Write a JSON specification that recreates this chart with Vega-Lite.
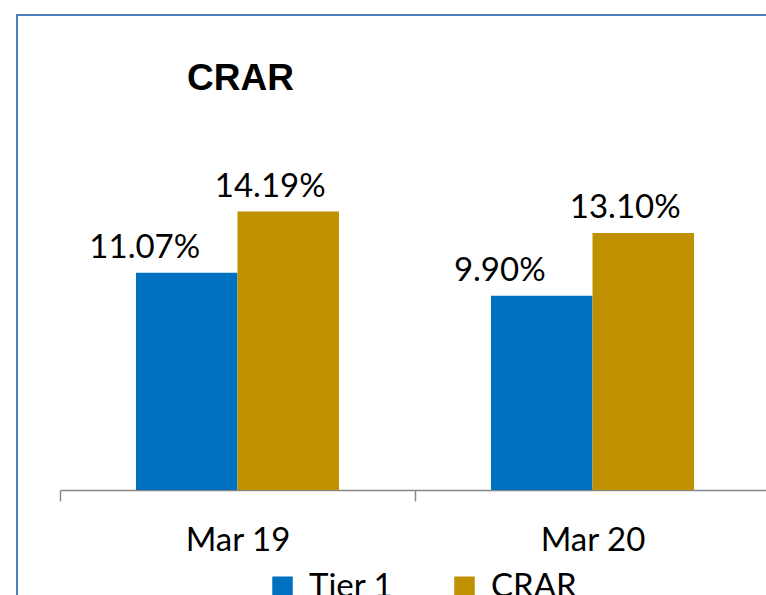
{
  "$schema": "https://vega.github.io/schema/vega-lite/v6.json",
  "width": 760,
  "height": 600,
  "autosize": {"type": "none"},
  "padding": {"left": 17, "top": 15, "right": -11, "bottom": -20},
  "background": "white",
  "config": {"view": {"stroke": "#4a7ebb", "strokeWidth": 2}},
  "title": {"text": "CRAR", "anchor": "start", "frame": "group", "dx": 170, "dy": 112, "offset": 0, "baseline": "alphabetic", "fontSize": 37, "font": "Liberation Sans", "fontWeight": "bold", "color": "black"},
  "data": {"values": [
    {"period": "Mar 19", "series": "Tier 1", "value": 0.1107},
    {"period": "Mar 19", "series": "CRAR", "value": 0.1419},
    {"period": "Mar 20", "series": "Tier 1", "value": 0.0990},
    {"period": "Mar 20", "series": "CRAR", "value": 0.1310}
  ]},
  "encoding": {
    "x": {"field": "period", "type": "nominal", "sort": ["Mar 19", "Mar 20"],
      "scale": {"range": [43, 753], "paddingInner": 0, "paddingOuter": 0},
      "axis": {"orient": "bottom", "offset": -125, "title": null, "labelAngle": 0, "tickBand": "extent", "domainColor": "#888888", "tickColor": "#888888", "domainWidth": 1.5, "tickWidth": 1.5, "tickSize": 11, "labelFont": "Lato", "labelFontSize": 33, "labelColor": "black", "labelPadding": 23}},
    "xOffset": {"field": "series", "sort": ["Tier 1", "CRAR"], "scale": {"paddingInner": 0, "paddingOuter": 0.749}},
    "y": {"field": "value", "type": "quantitative", "scale": {"domain": [-0.0637, 0.2421], "nice": false, "zero": false}, "axis": null}
  },
  "layer": [
    {"mark": {"type": "bar"},
     "encoding": {"y2": {"datum": 0},
       "color": {"field": "series", "type": "nominal", "sort": ["Tier 1", "CRAR"],
         "scale": {"domain": ["Tier 1", "CRAR"], "range": ["#0070C0", "#BF9000"]},
         "legend": {"orient": "none", "legendX": 249, "legendY": 555, "direction": "horizontal", "title": null, "symbolType": "square", "symbolSize": 420, "symbolStrokeWidth": 0, "labelFont": "Lato", "labelFontSize": 33, "labelColor": "black", "columnPadding": 54, "labelOffset": 10}}}},
    {"transform": [{"filter": "datum.series === 'Tier 1'"}],
     "mark": {"type": "text", "dx": -42, "dy": -15, "baseline": "alphabetic", "font": "Lato", "fontSize": 33, "color": "black"},
     "encoding": {"text": {"field": "value", "type": "quantitative", "format": ".2%"}}},
    {"transform": [{"filter": "datum.series === 'CRAR'"}],
     "mark": {"type": "text", "dx": -18, "dy": -15, "baseline": "alphabetic", "font": "Lato", "fontSize": 33, "color": "black"},
     "encoding": {"text": {"field": "value", "type": "quantitative", "format": ".2%"}}}
  ]
}
